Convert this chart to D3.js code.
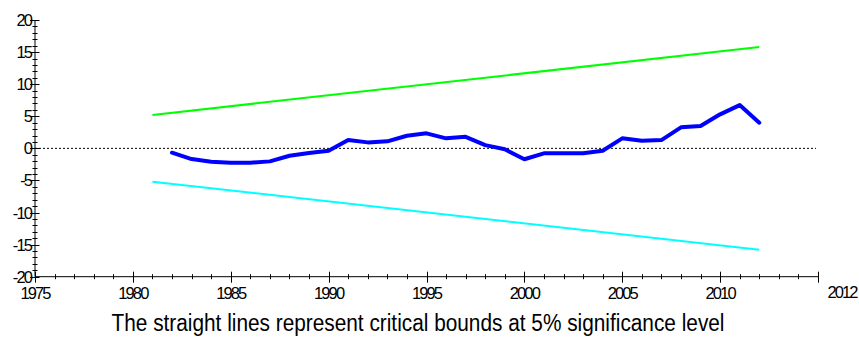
<!DOCTYPE html>
<html><head><meta charset="utf-8">
<script src="https://cdn.jsdelivr.net/npm/d3@7"></script>
<style>body{margin:0;background:#fff;} svg{display:block;font-family:"Liberation Sans",Arial,sans-serif;}</style>
</head><body>
<script>
const years = d3.range(1982, 2013);
const cusum = [-0.68,-1.67,-2.08,-2.24,-2.24,-2.03,-1.15,-0.73,-0.37,1.3,0.93,1.09,1.96,2.34,1.56,1.8,0.5,-0.15,-1.7,-0.78,-0.78,-0.78,-0.37,1.56,1.18,1.29,3.27,3.47,5.3,6.74,3.99];
const boundYears = [1981, 2012];
const upperBound = [5.2, 15.8];
const lowerBound = [-5.2, -15.8];
const xTicks = [1975,1980,1985,1990,1995,2000,2005,2010];
const yTicks = [-20,-15,-10,-5,0,5,10,15,20];
const endLabel = "2012";
const caption = "The straight lines represent critical bounds at 5% significance level";

const W=859,H=338;
const svg=d3.select("body").append("svg").attr("width",W).attr("height",H);
const x=d3.scaleLinear().domain([1975,2015]).range([35,818]);
const y=d3.scaleLinear().domain([-20,20]).range([276.7,20]);

// zero line
svg.append("line").attr("x1",x(1975)).attr("x2",x(2015)-2).attr("y1",y(0)).attr("y2",y(0))
  .attr("stroke","#000").attr("stroke-width",1).attr("stroke-dasharray","2,2");

// Y axis
const yAxis=svg.append("g");
yAxis.append("line").attr("x1",35).attr("x2",35).attr("y1",y(20)).attr("y2",y(-20)).attr("stroke","#000");
d3.range(-20,21,1).forEach(v=>{
  const major=v%5===0;
  yAxis.append("line").attr("x1",major?30:32.5).attr("x2",major?39.5:37.5)
    .attr("y1",Math.round(y(v))+0.5).attr("y2",Math.round(y(v))+0.5).attr("stroke","#000");
});
yAxis.selectAll("text").data(yTicks).join("text")
  .attr("x",31).attr("y",d=>y(d)+6).attr("text-anchor","end")
  .attr("font-size",16.5).attr("letter-spacing",-1.9).text(d=>d);

// X axis
const xa=svg.append("g");
const y0=y(-20);
xa.append("line").attr("x1",x(1975)).attr("x2",x(2015)).attr("y1",y0).attr("y2",y0).attr("stroke","#000");
d3.range(1975,2016,1).forEach(v=>{
  const major=(v%5===0);
  const xx=Math.round(x(v))+0.5;
  xa.append("line").attr("x1",xx).attr("x2",xx).attr("y1",major?y0-5:y0-2.5).attr("y2",major?y0+6:y0+2.5).attr("stroke","#000");
});
xa.selectAll("text.t").data(xTicks).join("text").attr("class","t")
  .attr("x",d=>x(d)).attr("y",299).attr("text-anchor","middle")
  .attr("font-size",16.5).attr("letter-spacing",-1.9).text(d=>d);
xa.append("text").attr("x",842).attr("y",297.5).attr("text-anchor","middle")
  .attr("font-size",16.5).attr("letter-spacing",-1.9).text(endLabel);

// bounds
const line=d3.line().x(d=>x(d[0])).y(d=>y(d[1]));
svg.append("path").attr("d",line(boundYears.map((d,i)=>[d,upperBound[i]])))
  .attr("fill","none").attr("stroke","#00ff00").attr("stroke-width",2);
svg.append("path").attr("d",line(boundYears.map((d,i)=>[d,lowerBound[i]])))
  .attr("fill","none").attr("stroke","#00ffff").attr("stroke-width",2);
// cusum
svg.append("path").attr("d",line(years.map((d,i)=>[d,cusum[i]])))
  .attr("fill","none").attr("stroke","#0000ff").attr("stroke-width",4).attr("stroke-linejoin","round").attr("stroke-linecap","round");

// caption
svg.append("text").attr("x",418).attr("y",331).attr("text-anchor","middle")
  .attr("font-size",23.5).attr("textLength",613).attr("lengthAdjust","spacingAndGlyphs").text(caption);
</script>
</body></html>
